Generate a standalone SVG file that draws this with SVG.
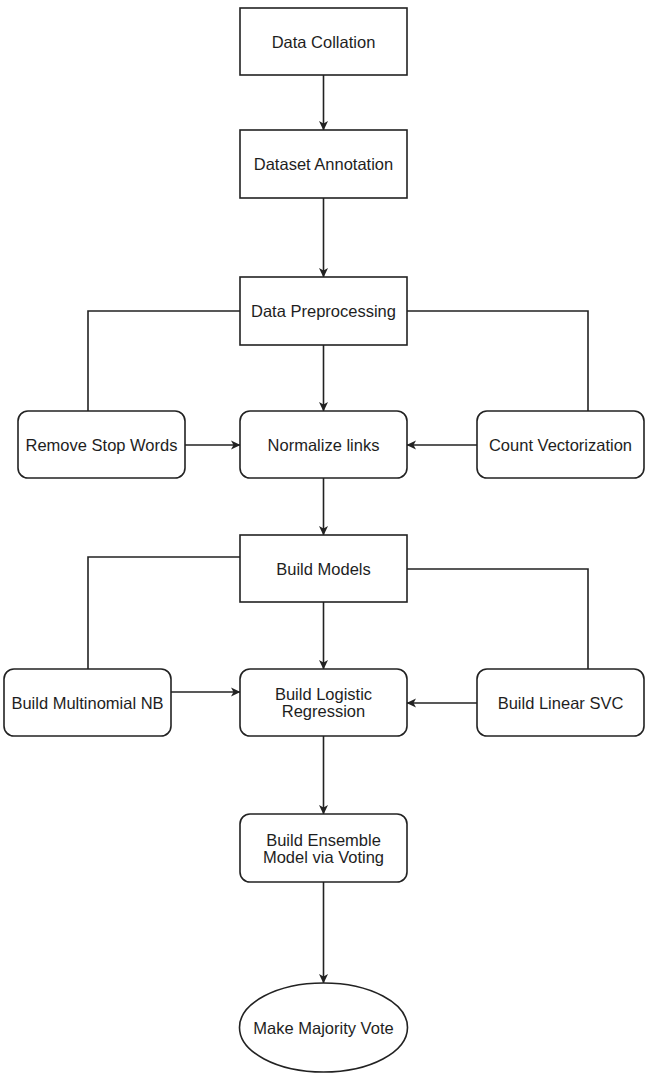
<svg xmlns="http://www.w3.org/2000/svg" width="649" height="1078" viewBox="0 0 649 1078">
<style>
.box{fill:#fff;stroke:#222;stroke-width:1.6}
.t{font-family:"Liberation Sans",Arial,sans-serif;font-size:16.5px;fill:#1e1e1e;text-anchor:middle;dominant-baseline:central}
.c{fill:none;stroke:#222;stroke-width:1.6}
</style>
<defs>
<marker id="ah" markerWidth="10" markerHeight="10" refX="9" refY="5" orient="auto" markerUnits="userSpaceOnUse">
<path d="M0,0.5 L9.5,5 L0,9.5 L2.5,5 Z" fill="#222"/>
</marker>
</defs>
<rect width="649" height="1078" fill="#fff"/>
<g id="connectors">
<path class="c" d="M323.5,75 V130" marker-end="url(#ah)"/>
<path class="c" d="M323.5,198 V277" marker-end="url(#ah)"/>
<path class="c" d="M323.5,345 V411" marker-end="url(#ah)"/>
<path class="c" d="M240,311 H88 V411"/>
<path class="c" d="M407,311 H588 V411"/>
<path class="c" d="M185,445 H240" marker-end="url(#ah)"/>
<path class="c" d="M477,445 H407" marker-end="url(#ah)"/>
<path class="c" d="M323.5,478 V535" marker-end="url(#ah)"/>
<path class="c" d="M323.5,602 V669" marker-end="url(#ah)"/>
<path class="c" d="M240,557 H88 V669"/>
<path class="c" d="M407,569 H588 V669"/>
<path class="c" d="M171,692 H240" marker-end="url(#ah)"/>
<path class="c" d="M477,703 H407" marker-end="url(#ah)"/>
<path class="c" d="M323.5,736 V814" marker-end="url(#ah)"/>
<path class="c" d="M323.5,882 V983" marker-end="url(#ah)"/>
</g>
<g id="data-collation"><rect class="box" x="240" y="8" width="167" height="67"/><text class="t" x="323.5" y="42">Data Collation</text></g>
<g id="dataset-annotation"><rect class="box" x="240" y="130" width="167" height="68"/><text class="t" x="323.5" y="164">Dataset Annotation</text></g>
<g id="data-preprocessing"><rect class="box" x="240" y="277" width="167" height="68"/><text class="t" x="323.5" y="311">Data Preprocessing</text></g>
<g id="remove-stop-words"><rect class="box" x="18" y="411" width="167" height="67" rx="10"/><text class="t" x="101.5" y="445">Remove Stop Words</text></g>
<g id="normalize-links"><rect class="box" x="240" y="411" width="167" height="67" rx="10"/><text class="t" x="323.5" y="445">Normalize links</text></g>
<g id="count-vectorization"><rect class="box" x="477" y="411" width="167" height="67" rx="10"/><text class="t" x="560.5" y="445">Count Vectorization</text></g>
<g id="build-models"><rect class="box" x="240" y="535" width="167" height="67"/><text class="t" x="323.5" y="569">Build Models</text></g>
<g id="build-multinomial-nb"><rect class="box" x="4" y="669" width="167" height="67" rx="10"/><text class="t" x="87.5" y="703">Build Multinomial NB</text></g>
<g id="build-logistic-regression"><rect class="box" x="240" y="669" width="167" height="67" rx="10"/><text class="t" x="323.5" y="694">Build Logistic</text><text class="t" x="323.5" y="711">Regression</text></g>
<g id="build-linear-svc"><rect class="box" x="477" y="669" width="167" height="67" rx="10"/><text class="t" x="560.5" y="703">Build Linear SVC</text></g>
<g id="build-ensemble"><rect class="box" x="240" y="814" width="167" height="68" rx="10"/><text class="t" x="323.5" y="840">Build Ensemble</text><text class="t" x="323.5" y="857">Model via Voting</text></g>
<g id="make-majority-vote"><ellipse class="box" cx="323.5" cy="1027.5" rx="84" ry="44.5"/><text class="t" x="323.5" y="1028">Make Majority Vote</text></g>
</svg>
